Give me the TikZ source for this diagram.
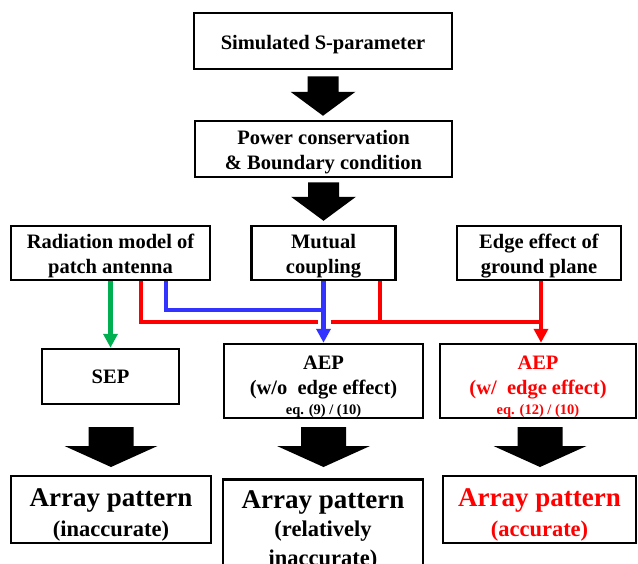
\documentclass[tikz,border=0pt]{standalone}
\usepackage{fontspec}
\setmainfont{Liberation Serif}
\usetikzlibrary{calc,arrows.meta}
\definecolor{cred}{RGB}{255,0,0}
\definecolor{cblue}{RGB}{51,51,255}
\definecolor{cgreen}{RGB}{0,176,80}
% invisible strut that pushes a box's text down
\newcommand\pushdown[1]{\rule{0pt}{#1pt}}
% #1 start, #2 tip, #3 shaft half width, #4 head half width, #5 head length
\newcommand\fatarrow[5]{%
  \fill[black] let \p1=(#1), \p2=(#2) in
    (\x1-#3pt,\y1) -- (\x1+#3pt,\y1) -- (\x1+#3pt,\y2+#5pt) -- (\x1+#4pt,\y2+#5pt)
    -- (\x1,\y2) -- (\x1-#4pt,\y2+#5pt) -- (\x1-#3pt,\y2+#5pt) -- cycle;}
\begin{document}
\begin{tikzpicture}[x=1pt,y=-1pt,
  box/.style={draw=black, line width=2.5pt, align=center, inner sep=0pt,
    font=\bfseries\fontsize{20.5}{24.5}\selectfont},
  bigbox/.style={box, font=\bfseries\fontsize{27}{30}\selectfont},
  wire/.style={line width=4.5pt},
  tipped/.style={-{Triangle[width=14pt,length=14pt]}},
]
\clip (0,0) rectangle (638,563);
\fill[white] (0,0) rectangle (638,563);
\node[box, minimum width=258, minimum height=56] (sim) at (323,41) {\pushdown{22}Simulated S-parameter};
\node[box, minimum width=257, minimum height=56] (pc) at (323.5,149) {\pushdown{20.5}Power conservation\\\& Boundary condition};
\node[box, minimum width=199, minimum height=54] (rad) at (110.5,253) {\pushdown{20.5}Radiation model of\\patch antenna};
\node[box, minimum width=144, minimum height=54] (mut) at (323.5,253) {\pushdown{20.5}Mutual\\coupling};
\node[box, minimum width=164, minimum height=54] (edge) at (539,253) {\pushdown{20.5}Edge effect of\\ground plane};
\node[box, minimum width=137, minimum height=55] (sep) at (110.5,376.5) {SEP};
\node[box, minimum width=199, minimum height=74] (aepm) at (323.5,381)
  {\pushdown{25.5}AEP\\(w/o\ \ edge effect)\\[-4pt]{\fontsize{14.5}{17}\selectfont eq. (9) / (10)}};
\node[box, minimum width=196, minimum height=74, text=cred] (aepr) at (538,381)
  {\pushdown{25.5}AEP\\(w/\ \ edge effect)\\[-4pt]{\fontsize{14.5}{17}\selectfont eq. (12) / (10)}};
\node[bigbox, minimum width=200, minimum height=67] (bl) at (111,509.5)
  {\pushdown{28.5}Array pattern\\{\fontsize{22.5}{26}\selectfont (inaccurate)}};
\node[bigbox, minimum width=200, minimum height=95, anchor=north] (bm) at (323,478)
  {\pushdown{25}Array pattern\\[-2pt]{\fontsize{22.5}{26}\selectfont (relatively}\\[-1pt]{\fontsize{22.5}{26}\selectfont inaccurate)}};
\node[bigbox, minimum width=193, minimum height=67, text=cred] (br) at (539.5,509.5)
  {\pushdown{28.5}Array pattern\\{\fontsize{22.5}{26}\selectfont (accurate)}};
% big arrows
\fatarrow{[yshift=-6pt]sim.south}{[yshift=4pt]pc.north}{15.5}{32.5}{24}
\fatarrow{[yshift=-4pt]pc.south}{[yshift=4pt]mut.north}{15.5}{32.5}{24}
\coordinate (ya) at (0,427);
\coordinate (yt) at (0,467);
\fatarrow{bl.north |- ya}{bl.north |- yt}{22.5}{46.5}{21}
\fatarrow{aepm.south |- ya}{aepm.south |- yt}{22.5}{46.5}{21}
\fatarrow{[xshift=2pt]aepr.south |- ya}{[xshift=2pt]aepr.south |- yt}{22.5}{46.5}{21}
% connectors
\coordinate (yb) at (0,310);
\coordinate (yr) at (0,322);
\draw[wire, cgreen, tipped] (rad.south) -- (sep.north);
\draw[wire, cblue] ([xshift=55.5pt]rad.south) |- (mut.south |- yb);
\draw[wire, cred] ([xshift=30.5pt]rad.south) |- ([xshift=-6pt]mut.south |- yr);
\draw[wire, cred] ([xshift=7pt]mut.south |- yr) -- ([xshift=3pt]edge.south |- yr);
\draw[wire, cred] ([xshift=56.5pt]mut.south) -- ([xshift=56.5pt]mut.south |- yr);
\draw[wire, cblue, tipped] (mut.south) -- (aepm.north);
\draw[wire, cred, tipped] ([xshift=2pt]edge.south) -- ([xshift=2pt]edge.south |- aepr.north);
\end{tikzpicture}
\end{document}
